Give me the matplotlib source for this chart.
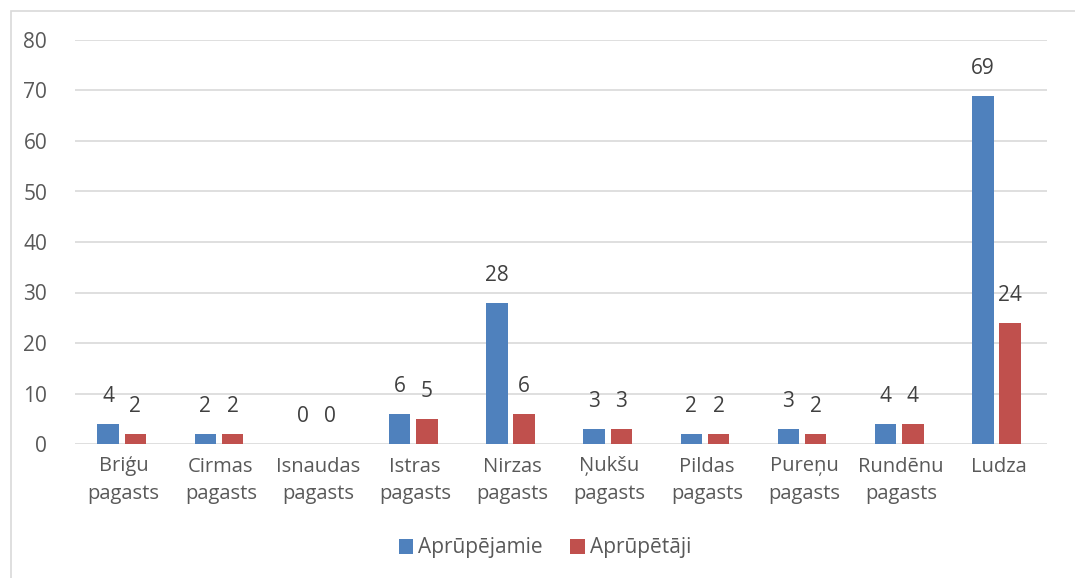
import numpy as np
import matplotlib
matplotlib.use("Agg")
import matplotlib.pyplot as plt
from matplotlib.patches import Rectangle

# data
categories = ["Briģu\npagasts", "Cirmas\npagasts", "Isnaudas\npagasts", "Istras\npagasts",
              "Nirzas\npagasts", "Ņukšu\npagasts", "Pildas\npagasts", "Pureņu\npagasts",
              "Rundēnu\npagasts", "Ludza"]
apr_jamie = [4, 2, 0, 6, 28, 3, 2, 3, 4, 69]
apr_taji = [2, 2, 0, 5, 6, 3, 2, 2, 4, 24]
series_names = ["Aprūpējamie", "Aprūpētāji"]

plt.rcParams['font.family'] = ['Open Sans', 'DejaVu Sans']

fig = plt.figure(figsize=(10.75, 5.78), dpi=100)
ax = fig.add_axes([75/1075, 1-444/578, (1047-75)/1075, (444-40)/578])

blue = "#4f81bd"
red = "#c0504d"
x = np.arange(len(categories))
w = 0.22
off = 0.14
b1 = ax.bar(x - off - 0.02, apr_jamie, w, color=blue, label=series_names[0], zorder=3)
b2 = ax.bar(x + off - 0.02, apr_taji, w, color=red, label=series_names[1], zorder=3)

for bars in (b1, b2):
    for r in bars:
        ax.annotate(f"{int(r.get_height())}", (r.get_x() + r.get_width()/2, r.get_height()),
                    xytext=(0, 12), textcoords="offset points", ha="center", va="bottom",
                    fontsize=15, color="#404040")

ax.set_ylim(0, 80)
ax.set_xlim(-0.5, len(categories) - 0.5)
ax.set_yticks(range(0, 81, 10))
ax.yaxis.grid(True, color="#d9d9d9", lw=1.2, zorder=0)
ax.set_axisbelow(True)
for s in ax.spines.values():
    s.set_visible(False)
ax.tick_params(axis="y", length=0, pad=20, labelsize=15, labelcolor="#595959")
ax.tick_params(axis="x", length=0, pad=9, labelsize=14.5, labelcolor="#595959")
ax.set_xticks(x)
ax.set_xticklabels(categories, linespacing=1.5)

fig.legend(handles=[b1, b2], labels=series_names, loc="center", bbox_to_anchor=(545/1075, 1-548/578),
           ncol=2, frameon=False, fontsize=15, labelcolor="#595959", handlelength=0.7,
           handleheight=0.7, handletextpad=0.25, columnspacing=1.3)

# outer chart border
fig.patches.append(Rectangle((11/1075, -0.05), 1.1, 1.05 - 11/578, transform=fig.transFigure,
                             fill=False, edgecolor="#d9d9d9", lw=1.2))

fig.savefig("out.png", dpi=100)
